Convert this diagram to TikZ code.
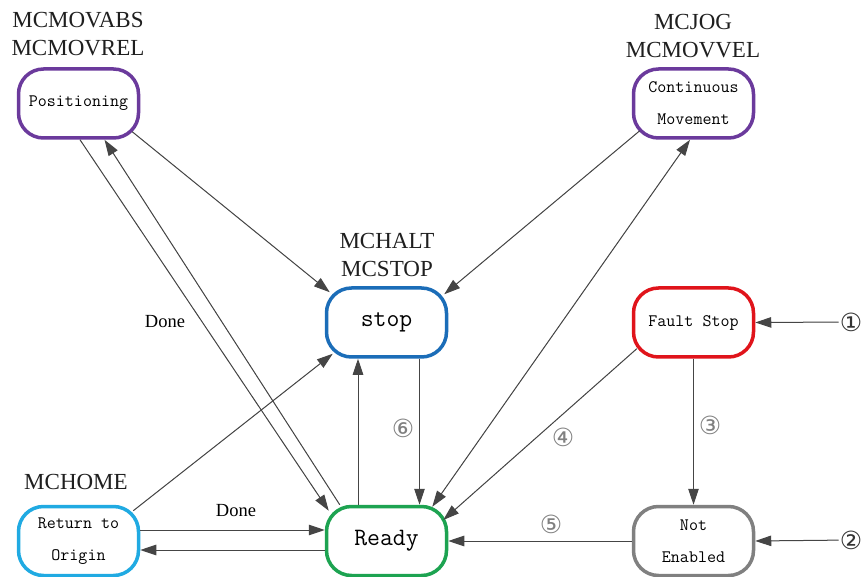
\documentclass[tikz,border=0pt]{standalone}
\usepackage{fontspec}
\setmainfont{Liberation Serif}
\newfontfamily\circfont{DejaVu Sans}
\usetikzlibrary{arrows.meta}
\definecolor{posviolet}{HTML}{6B3A9C}
\definecolor{stopblue}{HTML}{1B6DB8}
\definecolor{readygreen}{HTML}{1DA351}
\definecolor{homeblue}{HTML}{20AAE2}
\definecolor{faultred}{HTML}{E0141B}
\definecolor{offgray}{HTML}{808080}
\definecolor{wire}{HTML}{454545}
\tikzset{
  state/.style={draw, line width=3.5pt, rounded corners=25pt, minimum width=120pt,
    minimum height=69pt, inner sep=0pt, align=center, fill=white,
    font=\ttfamily\fontsize{17.5}{32}\selectfont},
  bigstate/.style={state, font=\ttfamily\fontsize{25}{28}\selectfont},
  cmd/.style={align=center, inner sep=0pt, text=black!88,
    font=\fontsize{23}{28}\selectfont},
  done/.style={inner sep=0pt, font=\fontsize{18.5}{20}\selectfont},
  num/.style={inner sep=1pt, text=black!50, font=\circfont\fontsize{25}{26}\selectfont},
  innum/.style={num, text=black!80},
  trans/.style={draw=wire, fill=wire, line width=1pt}
}
\begin{document}
\begin{tikzpicture}[x=1pt, y=-1pt, >={Triangle[length=16pt,width=10.5pt]}]
\useasboundingbox (0,0) rectangle (865,577);
\node[state, draw=posviolet] (pos) at (78.5,103.5) {Positioning};
\node[state, draw=posviolet] (cont) at (693.5,103.5) {Continuous\\Movement};
\node[bigstate, draw=stopblue] (stop) at (386.5,322.5) {stop};
\node[state, draw=faultred] (fault) at (693.5,322.5) {Fault Stop};
\node[bigstate, draw=readygreen] (ready) at (386.5,541) {Ready};
\node[state, draw=homeblue] (ret) at (78.5,541) {Return to\\Origin};
\node[state, draw=offgray] (noten) at (693.5,541) {Not\\Enabled};
\node[cmd] (poscmd) at (78,34) {MCMOVABS\\MCMOVREL};
\node[cmd] (contcmd) at (693,36) {MCJOG\\MCMOVVEL};
\node[cmd] (stopcmd) at (387,255) {MCHALT\\MCSTOP};
\node[cmd] (retcmd) at (76,482) {MCHOME};
\node[innum] (in1) at (851,322) {①};
\node[innum] (in2) at (851,540) {②};
\node[done] (posdone) at (165,322) {Done};
\node[done] (retdone) at (236,511) {Done};
\node[num] (lab3) at (710,425) {③};
\node[num] (lab4) at (563,437) {④};
\node[num] (lab5) at (551,524) {⑤};
\node[num] (lab6) at (403,428) {⑥};
\draw[trans, ->] ([shift={(1.5,0)}]pos.south) -- ([shift={(4,6)}]ready.north west);
\draw[trans, ->] ([shift={(15,0)}]ready.north west) -- ([shift={(26,0)}]pos.south);
\draw[trans, ->] ([shift={(-8,-8)}]pos.south east) -- ([shift={(5,6)}]stop.north west);
\draw[trans, ->] ([shift={(8,-9)}]cont.south west) -- ([shift={(-4,8)}]stop.north east);
\draw[trans, <->] ([shift={(-16,2)}]ready.north east) -- ([shift={(-3.5,0)}]cont.south);
\draw[trans, ->] ([shift={(5,-10)}]fault.south west) -- ([shift={(-5,-21)}]ready.east);
\draw[trans, ->] (fault.south) -- (noten.north);
\draw[trans, ->] (noten.west) -- (ready.east);
\draw[trans, ->] (in1) -- (fault.east);
\draw[trans, ->] (in2) -- (noten.east);
\draw[trans, ->] ([shift={(33,0)}]stop.south) -- ([shift={(33,0)}]ready.north);
\draw[trans, ->] ([shift={(-28.5,0)}]ready.north) -- ([shift={(-28.5,0)}]stop.south);
\draw[trans, ->] ([shift={(-7,6)}]ret.north east) -- ([shift={(8,-5)}]stop.south west);
\draw[trans, ->] ([shift={(0,-11)}]ret.east) -- ([shift={(0,-11)}]ready.west);
\draw[trans, ->] ([shift={(0,9)}]ready.west) -- ([shift={(0,9)}]ret.east);
\end{tikzpicture}
\end{document}
